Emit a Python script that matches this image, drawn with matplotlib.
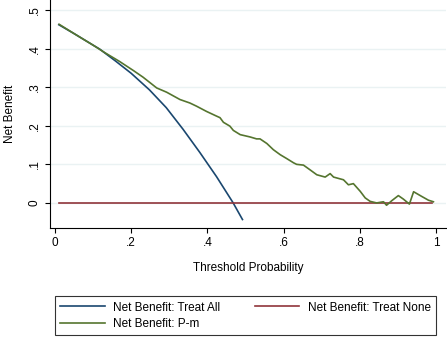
import matplotlib
matplotlib.use('Agg')
from matplotlib import pyplot as plt

plt.rcParams['font.family'] = ['Liberation Sans', 'DejaVu Sans']

# threshold probabilities and net benefit values
all_x = [0.01, 0.05, 0.10, 0.117, 0.16, 0.20, 0.248, 0.292, 0.336, 0.380, 0.424, 0.467, 0.492]
all_y = [0.462, 0.439, 0.409, 0.399, 0.367, 0.336, 0.293, 0.247, 0.191, 0.131, 0.068, 0.001, -0.043]

none_x = [0.01, 0.99]
none_y = [0.0, 0.0]

pm_x = [0.011, 0.05, 0.10, 0.13, 0.169, 0.206, 0.231, 0.267, 0.293, 0.328, 0.354, 0.371, 0.398,
        0.424, 0.433, 0.442, 0.459, 0.468, 0.486, 0.512, 0.529, 0.538, 0.556,
        0.573, 0.591, 0.608, 0.626, 0.634, 0.652, 0.669, 0.687, 0.709, 0.722,
        0.731, 0.757, 0.770, 0.783, 0.801, 0.814, 0.827, 0.844, 0.862, 0.870,
        0.884, 0.901, 0.914, 0.930, 0.941, 0.962, 0.980, 0.993]
pm_y = [0.463, 0.439, 0.409, 0.390, 0.367, 0.343, 0.326, 0.298, 0.287, 0.268, 0.259, 0.251, 0.237,
        0.225, 0.221, 0.209, 0.199, 0.188, 0.177, 0.171, 0.166, 0.166, 0.154,
        0.138, 0.125, 0.115, 0.104, 0.100, 0.098, 0.086, 0.073, 0.067, 0.076,
        0.067, 0.060, 0.047, 0.050, 0.030, 0.013, 0.004, 0.000, 0.003, -0.006,
        0.006, 0.019, 0.010, -0.003, 0.029, 0.017, 0.007, 0.003]

xticks = [0, 0.2, 0.4, 0.6, 0.8, 1.0]
xticklabels = ['0', '.2', '.4', '.6', '.8', '1']
yticks = [0, 0.1, 0.2, 0.3, 0.4, 0.5]
yticklabels = ['0', '.1', '.2', '.3', '.4', '.5']

W, H = 447, 340
fig = plt.figure(figsize=(W / 100, H / 100), dpi=100)
ax = fig.add_axes([50 / W, (H - 228) / H, 396 / W, 228 / H])

for y in yticks:
    ax.axhline(y, color='#eaf2f3', lw=1.0, zorder=0)

l_all, = ax.plot(all_x, all_y, color='#1a476f', lw=1.2, label='Net Benefit: Treat All')
l_none, = ax.plot(none_x, none_y, color='#90353b', lw=1.2, label='Net Benefit: Treat None')
l_pm, = ax.plot(pm_x, pm_y, color='#55752f', lw=1.2, label='Net Benefit: P-m')

ax.set_xlim(-0.013, 1.026)
ax.set_ylim(-0.065, 0.526)
ax.set_xticks(xticks)
ax.set_xticklabels(xticklabels)
ax.set_yticks(yticks)
ax.set_yticklabels(yticklabels, rotation=90, va='center')
ax.tick_params(labelsize=8.5, direction='out', length=3.5, width=0.8, color='black', pad=3)

for s in ['top', 'right']:
    ax.spines[s].set_visible(False)
for s in ['left', 'bottom']:
    ax.spines[s].set_linewidth(0.8)

ax.set_xlabel('Threshold Probability', fontsize=8.5, labelpad=9)
ax.set_ylabel('Net Benefit', fontsize=8.5, labelpad=9)

leg = fig.legend([l_all, l_pm, l_none],
                 ['Net Benefit: Treat All', 'Net Benefit: P-m', 'Net Benefit: Treat None'],
                 loc='lower left', bbox_to_anchor=(55 / W, 5 / H, 381 / W, 41 / H),
                 mode='expand', ncol=2, fontsize=8.5, frameon=True, fancybox=False,
                 handlelength=3.8, handletextpad=0.7, borderpad=0.45, labelspacing=0.35,
                 borderaxespad=0)
leg.get_frame().set_edgecolor('black')
leg.get_frame().set_linewidth(0.8)

plt.savefig('out.png', dpi=100)
